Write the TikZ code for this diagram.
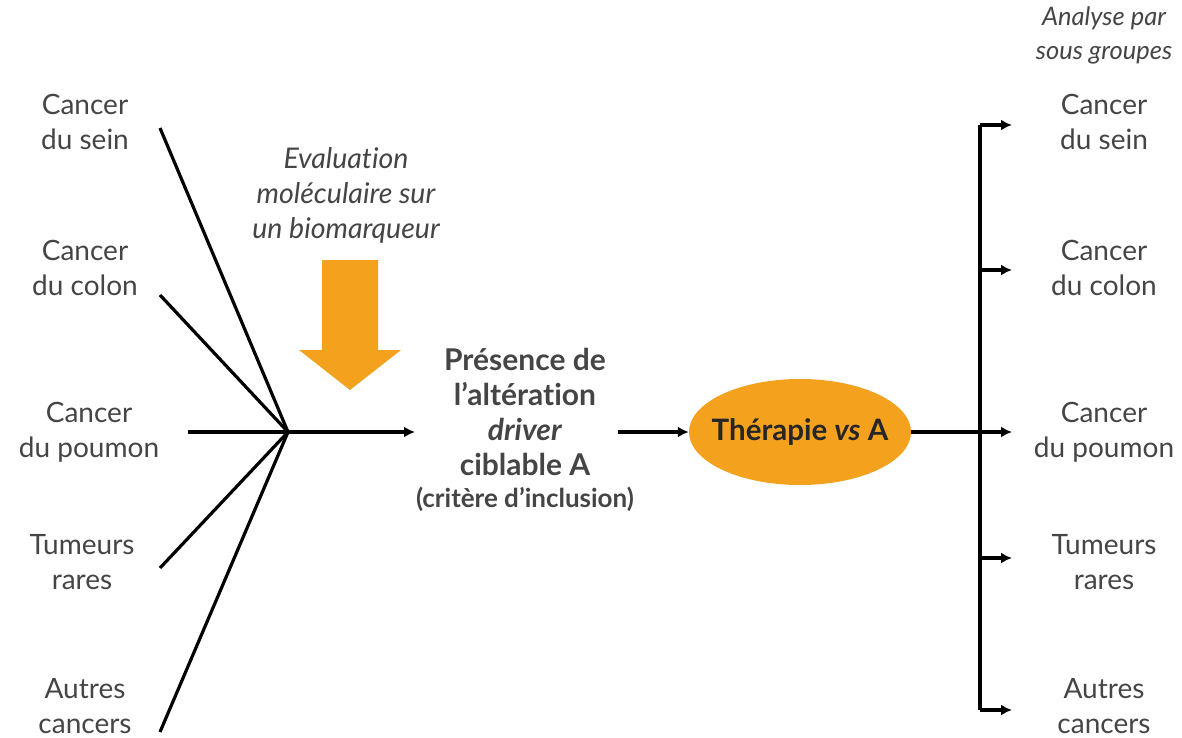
\documentclass[tikz,border=0pt]{standalone}
\usepackage{fontspec}
\setmainfont{Lato}[Ligatures=NoCommon]
\usetikzlibrary{arrows.meta,shapes.geometric}
\definecolor{txt}{HTML}{454545}
\definecolor{orng}{HTML}{F4A21E}
\tikzset{
  lab/.style={align=center,text=txt,font=\fontsize{28}{35}\selectfont,inner sep=0pt},
  ln/.style={line width=3.2pt,black},
  arr/.style={ln,-{Latex[length=11pt,width=11pt]}},
}
\begin{document}
\begin{tikzpicture}[x=1pt,y=-1pt]
\useasboundingbox[fill=white] (0,0) rectangle (1182,738);
% left labels
\node[lab] (l1) at (85,122) {Cancer\\du sein};
\node[lab] (l2) at (85,268) {Cancer\\du colon};
\node[lab] (l3) at (89,432) {Cancer\\du poumon};
\node[lab] (l4) at (82,562) {Tumeurs\\rares};
\node[lab] (l5) at (85,706) {Autres\\cancers};
\coordinate (s1) at (160,128);
\coordinate (s2) at (160,295);
\coordinate (s3) at (188,432);
\coordinate (s4) at (160,568);
\coordinate (s5) at (160,732);
\coordinate (hub) at (288,432);
\foreach \i in {1,...,5} \draw[ln] (s\i) -- (hub);
% evaluation
\node[lab,font=\fontsize{28.5}{35}\selectfont\itshape] (ev) at (346,195) {Evaluation\\moléculaire sur\\un biomarqueur};
\fill[orng] (322,260) -- (378,260) -- (378,350) -- (401,350) -- (350,390) -- (299,350) -- (322,350) -- cycle;
% presence
\node[lab,font=\fontsize{30}{35}\selectfont\bfseries] (pr) at (525,430) {Présence de\\l’altération\\\textit{driver}\\ciblable A\\[-3pt]{\fontsize{26}{30}\selectfont(critère d’inclusion)}};
\coordinate (pl) at (415,432);
\draw[arr] (hub) -- (pl);
% therapy
\node[ellipse,fill=orng,minimum width=222pt,minimum height=106pt,inner sep=0pt] (th) at (800,432) {};
\node[inner sep=0pt,font=\fontsize{29.5}{30}\selectfont\bfseries,text=black!85] (tht) at (th.center) {Thérapie \textit{vs} A};
\coordinate (a1) at (618,432);
\draw[arr] (a1) -- (th.west);
% right
\node[lab,font=\fontsize{25.5}{34}\selectfont\itshape] (an) at (1104,35) {Analyse par\\sous groupes};
\node[lab] (r1) at (1104,122) {Cancer\\du sein};
\node[lab] (r2) at (1104,268) {Cancer\\du colon};
\node[lab] (r3) at (1104,432) {Cancer\\du poumon};
\node[lab] (r4) at (1104,562) {Tumeurs\\rares};
\node[lab] (r5) at (1104,706) {Autres\\cancers};
\coordinate (bt) at (980,125);
\coordinate (bb) at (980,710);
\draw[ln] (bt) -- (bb);
\foreach \y [count=\i] in {125,270,432,558,710} {
  \coordinate (b\i) at (980,\y);
  \coordinate (e\i) at (1012,\y);
  \draw[arr] (b\i) -- (e\i);
}
\draw[ln] (th.east) -- (b3);
\end{tikzpicture}
\end{document}
